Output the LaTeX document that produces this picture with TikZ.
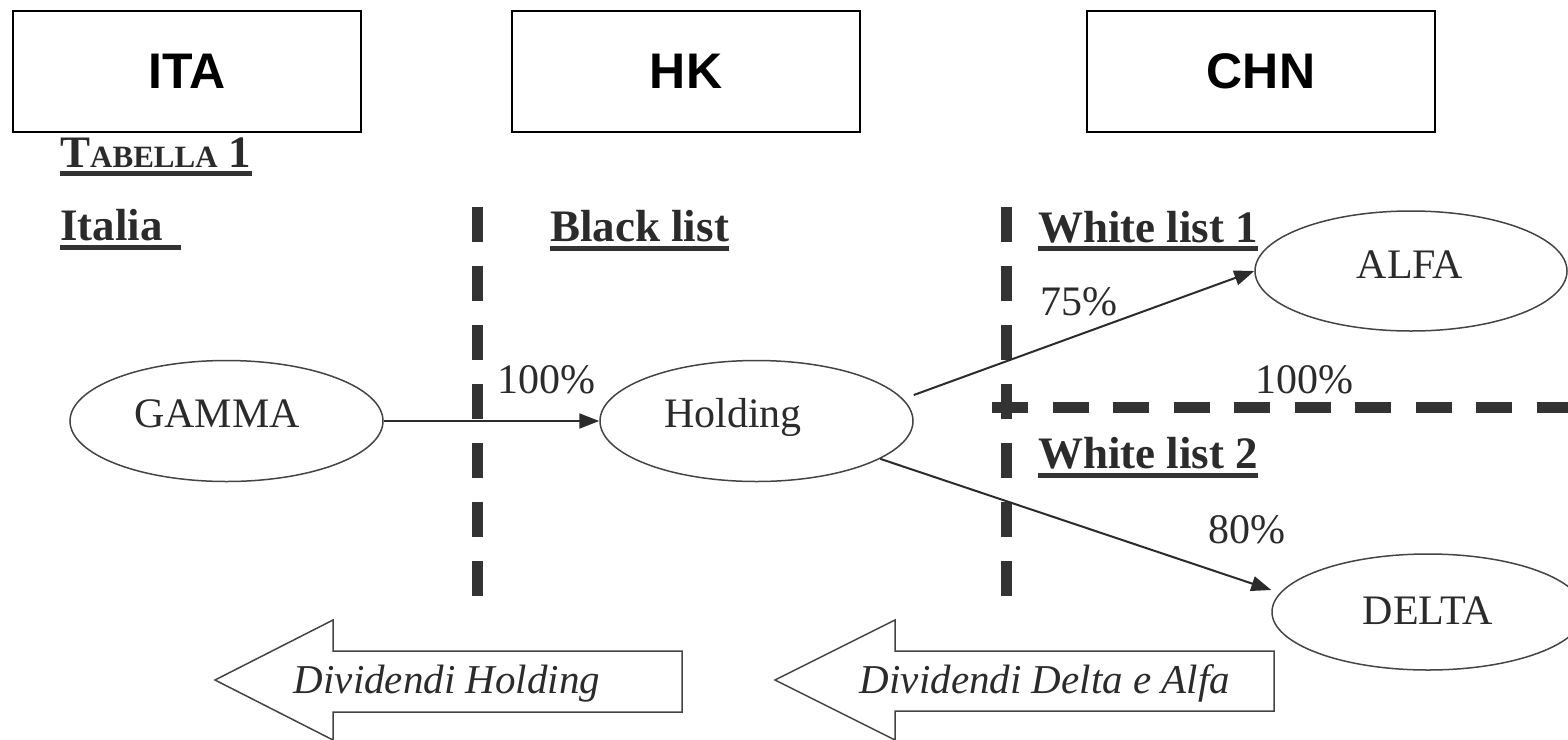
\documentclass[tikz,border=0pt]{standalone}
\usepackage{fontspec}
\setmainfont{Liberation Serif}
\newfontfamily\hdfont{Liberation Sans}
\usetikzlibrary{arrows.meta,shapes.geometric}
\definecolor{ink}{HTML}{2B2B2B}
\definecolor{dashc}{HTML}{333333}
\definecolor{edge}{HTML}{444444}
\begin{document}
\begin{tikzpicture}[x=1pt,y=-1pt,
  hbox/.style={draw=black,line width=2pt,minimum width=348pt,minimum height=121pt,inner sep=0pt,font=\hdfont\bfseries\fontsize{50}{60}\selectfont},
  ell/.style={ellipse,draw=edge,line width=1.5pt,inner sep=0pt,minimum width=313pt,minimum height=121pt},
  txt/.style={inner sep=0pt,anchor=base,text=ink,font=\fontsize{42}{50}\selectfont},
  hd/.style={inner sep=0pt,anchor=base west,text=ink,font=\bfseries\fontsize{45}{54}\selectfont},
  uline/.style={draw=dashc,line width=5pt},
  conn/.style={draw=ink,line width=2pt,-{Triangle[length=20pt,width=15pt]}},
  sep/.style={draw=dashc,line width=11pt,dash pattern=on 35pt off 24pt},
  hsep/.style={draw=dashc,line width=11pt,dash pattern=on 36pt off 24.5pt},
  barrow/.style={draw=edge,line width=1.5pt,fill=white},
  itx/.style={inner sep=0pt,anchor=base,text=ink,font=\itshape\fontsize{41}{49}\selectfont}]
\useasboundingbox (0,0) rectangle (1568,739);
\clip (0,0) rectangle (1568,739);

% separators
\coordinate (s1top) at (477,207);
\coordinate (s1bot) at (477,598);
\coordinate (s2top) at (1006,207);
\coordinate (s2bot) at (1006,598);
\coordinate (h1) at (992,407.5);
\coordinate (h2) at (1580,407.5);
\draw[sep] (s1top) -- (s1bot);
\draw[sep] (s2top) -- (s2bot);
\draw[hsep] (h1) -- (h2);

% top boxes
\node[hbox] (ita) at (187,71) {ITA};
\node[hbox] (hk) at (686,71) {HK};
\node[hbox] (chn) at (1261,71) {CHN};

% headings
\node[hd] (tab) at (60,167) {T{\fontsize{31}{37}\selectfont ABELLA} 1};
\draw[uline] ([yshift=-6.5pt]tab.base west) -- ([yshift=-6.5pt]tab.base east);
\node[hd] (itl) at (60,240) {Italia\hspace*{18pt}};
\draw[uline] ([yshift=-7pt]itl.base west) -- ([yshift=-7pt]itl.base east);
\node[hd] (bl) at (550,241) {Black list};
\draw[uline] ([yshift=-7pt]bl.base west) -- ([yshift=-7pt]bl.base east);
\node[hd] (wl1) at (1038,242) {White list 1};
\draw[uline] ([yshift=-6.5pt]wl1.base west) -- ([yshift=-6.5pt]wl1.base east);
\node[hd] (wl2) at (1038,468) {White list 2};
\draw[uline] ([yshift=-7pt]wl2.base west) -- ([yshift=-7pt]wl2.base east);

% ellipses
\node[ell] (gamma) at (226.5,421) {};
\node[ell] (holding) at (756.5,421) {};
\node[ell,minimum width=312pt,minimum height=120pt] (alfa) at (1411,271) {};
\node[ell,minimum width=312pt,minimum height=116pt] (delta) at (1428,612) {};
\node[txt] (gammaT) at (217,427) {GAMMA};
\node[txt] (holdingT) at (733,427) {Holding};
\node[txt] (alfaT) at (1410,278) {ALFA};
\node[txt] (deltaT) at (1428,624) {DELTA};

% percentages
\node[txt,anchor=base west] (p1) at (497,393) {100\%};
\node[txt,anchor=base west] (p2) at (1255,393) {100\%};
\node[txt,anchor=base west] (p3) at (1040,315) {75\%};
\node[txt,anchor=base west] (p4) at (1208,543) {80\%};

% connectors
\draw[conn] (gamma.east) -- (holding.west);
\draw[conn] ([yshift=26pt]holding.east) -- (alfa.west);
\draw[conn] (holding.-17) -- ([yshift=22pt]delta.west);

% block arrows
\draw[barrow] (215,680) -- (333,620) -- (333,651) -- (682,651) -- (682,712) -- (333,712) -- (333,740) -- cycle;
\node[itx] (div1) at (447,693) {Dividendi Holding};
\draw[barrow] (775,680) -- (895,620) -- (895,651) -- (1274,651) -- (1274,711) -- (895,711) -- (895,740) -- cycle;
\node[itx] (div2) at (1045,693) {Dividendi Delta e Alfa};
\end{tikzpicture}
\end{document}
